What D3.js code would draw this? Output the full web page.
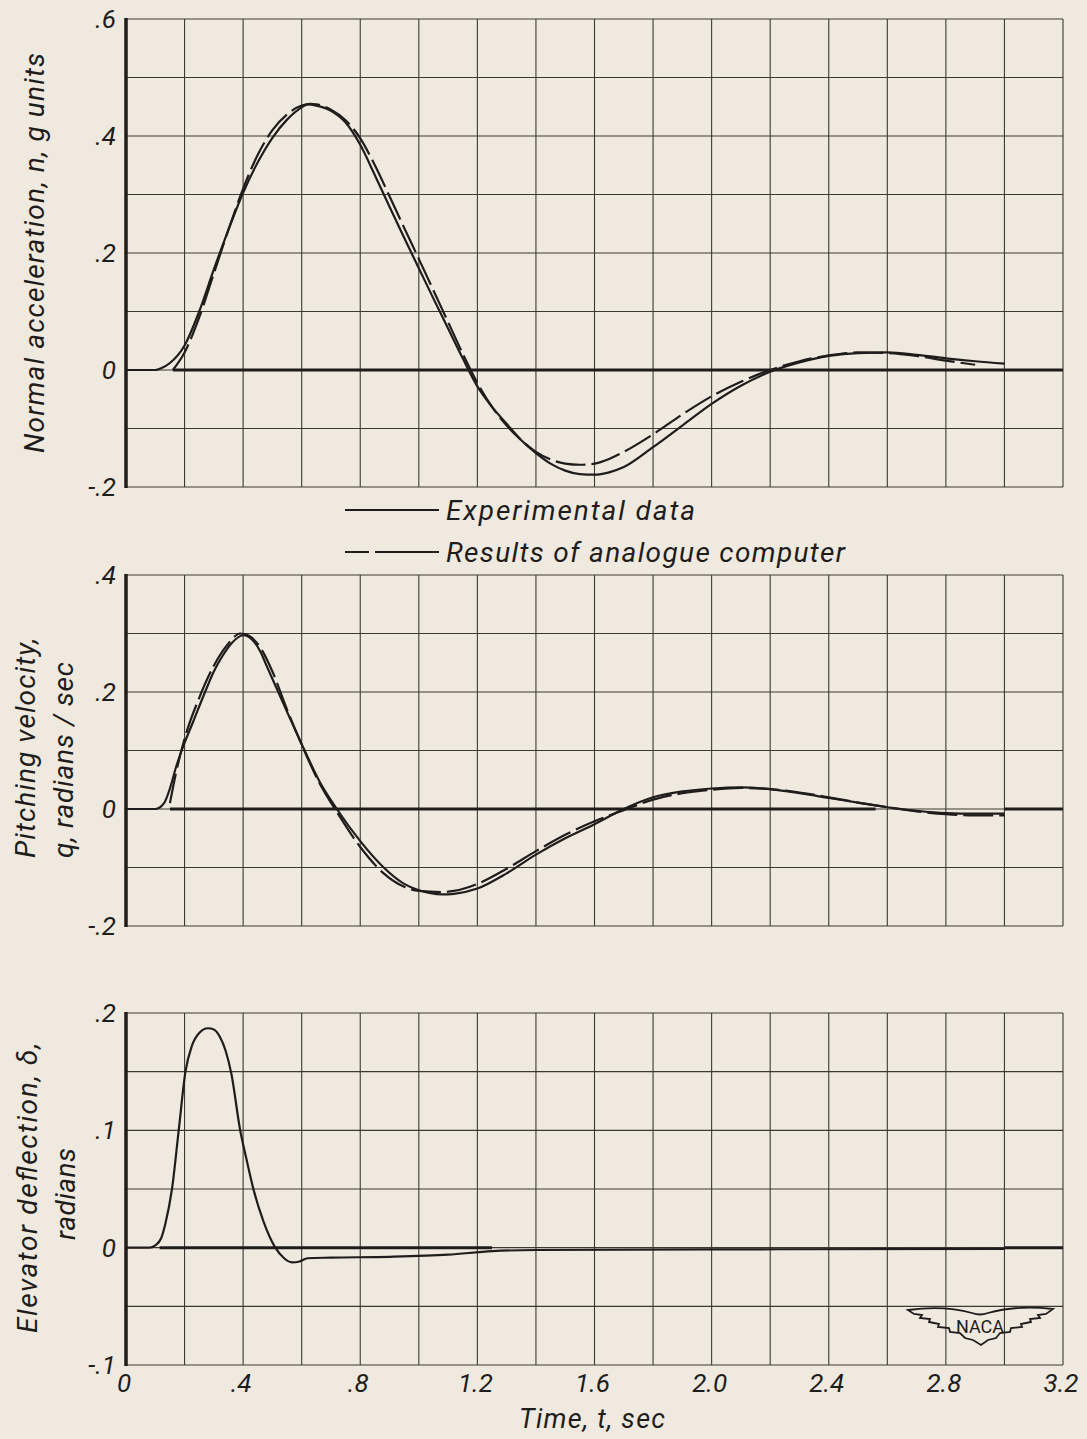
<!DOCTYPE html>
<html>
<head>
<meta charset="utf-8">
<script src="https://cdn.jsdelivr.net/npm/d3@7"></script>
<style>
  html, body { margin: 0; padding: 0; background: #f0e9df; }
  svg text { font-family: Roboto, "DejaVu Sans", sans-serif; font-style: italic; fill: #1f1d1b; }
</style>
</head>
<body>
<svg id="chart" width="1087" height="1439"></svg>
<script>
// ---- values (time in sec) ----

// Normal acceleration, n (g units)
const nTimeExp = [0, 0.1, 0.12, 0.15, 0.2, 0.25, 0.3, 0.35, 0.4, 0.45, 0.5, 0.55, 0.6, 0.62, 0.65, 0.7, 0.75, 0.8, 0.85, 0.9, 0.95, 1.0, 1.05, 1.1, 1.15, 1.2, 1.25, 1.3, 1.35, 1.4, 1.45, 1.5, 1.55, 1.6, 1.65, 1.7, 1.8, 1.9, 2.0, 2.1, 2.2, 2.3, 2.4, 2.5, 2.6, 2.7, 2.8, 2.9, 3.0];
const nExp =     [0, 0, 0.003, 0.012, 0.042, 0.1, 0.172, 0.24, 0.303, 0.355, 0.397, 0.428, 0.449, 0.454, 0.452, 0.443, 0.423, 0.385, 0.333, 0.279, 0.226, 0.174, 0.122, 0.071, 0.02, -0.028, -0.063, -0.092, -0.12, -0.142, -0.16, -0.172, -0.178, -0.179, -0.175, -0.166, -0.132, -0.095, -0.058, -0.027, -0.003, 0.013, 0.024, 0.029, 0.03, 0.026, 0.02, 0.015, 0.011];
const nTimeAna = [0.16, 0.2, 0.25, 0.3, 0.35, 0.4, 0.45, 0.5, 0.55, 0.6, 0.63, 0.65, 0.7, 0.75, 0.8, 0.85, 0.9, 0.95, 1.0, 1.05, 1.1, 1.15, 1.2, 1.25, 1.3, 1.35, 1.4, 1.45, 1.5, 1.55, 1.6, 1.65, 1.7, 1.8, 1.9, 2.0, 2.1, 2.2, 2.3, 2.4, 2.5, 2.6, 2.7, 2.8, 2.9];
const nAna =     [0, 0.03, 0.09, 0.165, 0.24, 0.31, 0.368, 0.41, 0.437, 0.452, 0.455, 0.454, 0.445, 0.427, 0.396, 0.35, 0.297, 0.243, 0.19, 0.136, 0.082, 0.028, -0.022, -0.063, -0.095, -0.12, -0.14, -0.153, -0.16, -0.162, -0.16, -0.152, -0.14, -0.11, -0.076, -0.045, -0.02, 0.0, 0.015, 0.025, 0.03, 0.029, 0.024, 0.016, 0.009];

// Pitching velocity, q (radians/sec)
const qTimeExp = [0, 0.1, 0.13, 0.15, 0.17, 0.19, 0.23, 0.27, 0.3, 0.33, 0.36, 0.4, 0.43, 0.46, 0.48, 0.52, 0.56, 0.61, 0.66, 0.72, 0.8, 0.88, 0.95, 1.0, 1.08, 1.12, 1.2, 1.3, 1.4, 1.5, 1.6, 1.7, 1.8, 1.9, 2.0, 2.1, 2.2, 2.3, 2.4, 2.5, 2.6, 2.7, 2.8, 2.9, 3.0];
const qExp =     [0, 0, 0.01, 0.035, 0.07, 0.1, 0.15, 0.2, 0.235, 0.262, 0.283, 0.297, 0.29, 0.268, 0.245, 0.2, 0.155, 0.1, 0.048, 0, -0.055, -0.1, -0.128, -0.139, -0.146, -0.145, -0.136, -0.11, -0.078, -0.05, -0.026, 0, 0.02, 0.03, 0.035, 0.037, 0.034, 0.027, 0.019, 0.011, 0.003, -0.003, -0.007, -0.008, -0.008];
const qTimeAna = [0.15, 0.17, 0.2, 0.25, 0.3, 0.35, 0.39, 0.42, 0.46, 0.5, 0.55, 0.6, 0.66, 0.72, 0.8, 0.88, 0.95, 1.0, 1.08, 1.12, 1.2, 1.3, 1.4, 1.5, 1.6, 1.7, 1.8, 1.9, 2.0, 2.1, 2.2, 2.3, 2.4, 2.5, 2.6, 2.7, 2.8, 2.9, 3.0];
const qAna =     [0.01, 0.06, 0.12, 0.19, 0.245, 0.283, 0.3, 0.296, 0.275, 0.235, 0.17, 0.11, 0.045, -0.005, -0.065, -0.11, -0.133, -0.14, -0.142, -0.14, -0.128, -0.102, -0.072, -0.044, -0.021, -0.002, 0.016, 0.027, 0.033, 0.036, 0.034, 0.028, 0.02, 0.011, 0.003, -0.004, -0.009, -0.011, -0.011];

// Elevator deflection, delta (radians)
const dTime = [0, 0.08, 0.1, 0.12, 0.134, 0.157, 0.18, 0.203, 0.225, 0.25, 0.28, 0.3, 0.32, 0.34, 0.36, 0.39, 0.41, 0.435, 0.47, 0.51, 0.54, 0.567, 0.59, 0.62, 0.7, 0.9, 1.1, 1.25, 1.4, 2.0, 3.0];
const dExp =  [0, 0, 0.002, 0.008, 0.02, 0.05, 0.1, 0.15, 0.172, 0.183, 0.187, 0.186, 0.18, 0.168, 0.148, 0.1, 0.077, 0.05, 0.022, 0, -0.009, -0.0125, -0.012, -0.009, -0.0085, -0.0078, -0.006, -0.003, -0.002, -0.0015, -0.001];

// zero reference lines drawn on each panel [from, to]
const nZeroRef = [[0.16, 3.2]];
const qZeroRef = [[0.15, 2.56], [3.0, 3.2]];
const dZeroRef = [[0.115, 1.25], [3.0, 3.2]];

// tick labels
const xTicks = [0, 0.4, 0.8, 1.2, 1.6, 2.0, 2.4, 2.8, 3.2];
const xTickLabels = ["0", ".4", ".8", "1.2", "1.6", "2.0", "2.4", "2.8", "3.2"];
const nTicks = [-0.2, 0, 0.2, 0.4, 0.6];
const nTickLabels = ["-.2", "0", ".2", ".4", ".6"];
const qTicks = [-0.2, 0, 0.2, 0.4];
const qTickLabels = ["-.2", "0", ".2", ".4"];
const dTicks = [-0.1, 0, 0.1, 0.2];
const dTickLabels = ["-.1", "0", ".1", ".2"];

const legendLabels = ["Experimental data", "Results of analogue computer"];

// ---- drawing ----
const ink = "#1f1d1b";
const svg = d3.select("#chart");
svg.append("rect").attr("width", 1087).attr("height", 1439).attr("fill", "#f0e9df");

const x = d3.scaleLinear().domain([0, 3.2]).range([126, 1063]);

const panels = [
  { dom: [-0.2, 0.6], rng: [487, 19], step: 0.1, ticks: nTicks, labels: nTickLabels,
    series: [{ t: nTimeExp, v: nExp, dash: null }, { t: nTimeAna, v: nAna, dash: "30,6" }],
    zero: nZeroRef },
  { dom: [-0.2, 0.4], rng: [926, 575], step: 0.1, ticks: qTicks, labels: qTickLabels,
    series: [{ t: qTimeExp, v: qExp, dash: null }, { t: qTimeAna, v: qAna, dash: "30,6" }],
    zero: qZeroRef },
  { dom: [-0.1, 0.2], rng: [1365, 1013], step: 0.05, ticks: dTicks, labels: dTickLabels,
    series: [{ t: dTime, v: dExp, dash: null }],
    zero: dZeroRef }
];

panels.forEach((p, pi) => {
  const y = d3.scaleLinear().domain(p.dom).range(p.rng);
  const g = svg.append("g").attr("class", "panel" + pi);

  // grid
  const nRows = Math.round((p.dom[1] - p.dom[0]) / p.step);
  const rows = d3.range(nRows + 1).map(i => p.dom[0] + i * p.step);
  const cols = d3.range(17).map(i => i * 0.2);
  g.selectAll("line.h").data(rows).enter().append("line")
    .attr("x1", x(0)).attr("x2", x(3.2))
    .attr("y1", d => y(d)).attr("y2", d => y(d))
    .attr("stroke", "#3a3a33").attr("stroke-width", 1.1);
  g.selectAll("line.v").data(cols).enter().append("line")
    .attr("x1", d => x(d)).attr("x2", d => x(d))
    .attr("y1", p.rng[0]).attr("y2", p.rng[1])
    .attr("stroke", "#3a3a33").attr("stroke-width", 1.1);

  // heavy left axis
  g.append("line")
    .attr("x1", x(0)).attr("x2", x(0))
    .attr("y1", p.rng[0] + 1).attr("y2", p.rng[1] - 1)
    .attr("stroke", ink).attr("stroke-width", 3.5);

  // y tick labels
  g.selectAll("text.yt").data(p.ticks).enter().append("text")
    .attr("x", 116).attr("y", d => y(d))
    .attr("text-anchor", "end").attr("dominant-baseline", "central")
    .attr("font-size", 26)
    .text((d, i) => p.labels[i]);

  // zero reference
  g.selectAll("line.z").data(p.zero).enter().append("line")
    .attr("x1", d => x(d[0])).attr("x2", d => x(d[1]))
    .attr("y1", y(0)).attr("y2", y(0))
    .attr("stroke", ink).attr("stroke-width", 3);

  // traces
  const line = d3.line().x(d => x(d[0])).y(d => y(d[1])).curve(d3.curveMonotoneX);
  p.series.forEach(s => {
    g.append("path")
      .datum(d3.zip(s.t, s.v))
      .attr("d", line)
      .attr("fill", "none")
      .attr("stroke", ink)
      .attr("stroke-width", 2.2)
      .attr("stroke-dasharray", s.dash);
  });
});

// x tick labels
svg.selectAll("text.xt").data(xTicks).enter().append("text")
  .attr("x", d => x(d) - 2).attr("y", 1392)
  .attr("text-anchor", "middle").attr("font-size", 26)
  .text((d, i) => xTickLabels[i]);

svg.append("text").attr("x", 592).attr("y", 1428)
  .attr("text-anchor", "middle").attr("font-size", 27)
  .attr("textLength", 146).attr("lengthAdjust", "spacing")
  .text("Time, t, sec");

// y axis titles
svg.append("text")
  .attr("transform", "translate(44,253) rotate(-90)")
  .attr("text-anchor", "middle").attr("font-size", 28)
  .attr("textLength", 400).attr("lengthAdjust", "spacing")
  .text("Normal acceleration, n, g units");

svg.append("text")
  .attr("transform", "translate(35,858) rotate(-90)")
  .attr("font-size", 28)
  .attr("textLength", 220).attr("lengthAdjust", "spacing")
  .text("Pitching velocity,");
svg.append("text")
  .attr("transform", "translate(73,858) rotate(-90)")
  .attr("font-size", 28)
  .attr("textLength", 196).attr("lengthAdjust", "spacing")
  .text("q, radians / sec");

svg.append("text")
  .attr("transform", "translate(37,1188) rotate(-90)")
  .attr("text-anchor", "middle").attr("font-size", 28)
  .attr("textLength", 290).attr("lengthAdjust", "spacing")
  .text("Elevator deflection, \u03b4,");
svg.append("text")
  .attr("transform", "translate(75,1194) rotate(-90)")
  .attr("text-anchor", "middle").attr("font-size", 28)
  .attr("textLength", 92).attr("lengthAdjust", "spacing")
  .text("radians");

// legend
const legY = [510, 552];
const legG = svg.append("g");
legG.selectAll("line").data(legendLabels).enter().append("line")
  .attr("x1", 345).attr("x2", 439)
  .attr("y1", (d, i) => legY[i]).attr("y2", (d, i) => legY[i])
  .attr("stroke", ink).attr("stroke-width", 2)
  .attr("stroke-dasharray", (d, i) => i ? "24,6,70" : null);
legG.selectAll("text").data(legendLabels).enter().append("text")
  .attr("x", 446).attr("y", (d, i) => legY[i] + 10)
  .attr("font-size", 28)
  .attr("textLength", (d, i) => i ? 399 : 249).attr("lengthAdjust", "spacing")
  .text(d => d);

// NACA wings mark
const logo = svg.append("g").attr("fill", "none").attr("stroke", ink).attr("stroke-width", 1.8);
logo.append("path").attr("d",
  "M908,1310 Q944,1305 972,1313 Q980,1316 988,1313 Q1016,1305 1053,1309 " +
  "L1046,1314 L1038,1315 L1040,1318 L1030,1319 L1031,1322 L1021,1324 L1022,1327 L1011,1328 " +
  "L1010,1332 L1000,1333 L996,1338 L988,1340 L981,1345 L973,1340 L965,1338 L960,1333 " +
  "L950,1332 L949,1328 L938,1327 L939,1324 L929,1322 L930,1319 L920,1318 L922,1315 L914,1314 Z");
svg.append("text").attr("x", 980).attr("y", 1333)
  .attr("text-anchor", "middle").attr("font-size", 18)
  .style("font-style", "normal")
  .text("NACA");
</script>
</body>
</html>
